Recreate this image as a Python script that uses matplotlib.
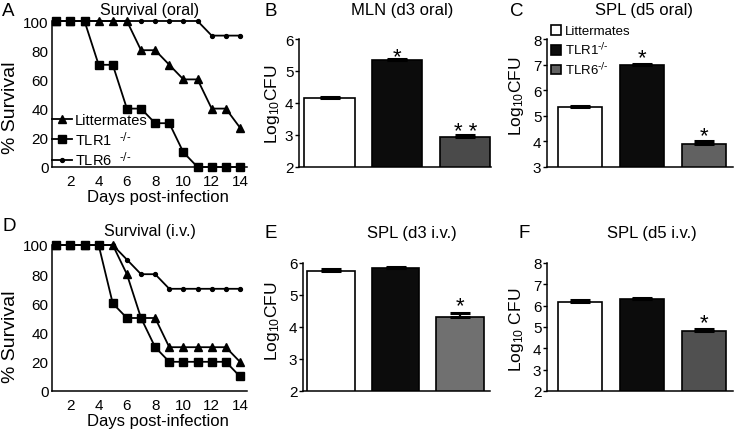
import numpy as np
import matplotlib.pyplot as plt

# survival data (% alive per day)
days = list(range(1, 15))
oral_litter = [100, 100, 100, 100, 100, 100, 80, 80, 70, 60, 60, 40, 40, 27]
oral_tlr1 = [100, 100, 100, 70, 70, 40, 40, 30, 30, 10, 0, 0, 0, 0]
oral_tlr6 = [100, 100, 100, 100, 100, 100, 100, 100, 100, 100, 100, 90, 90, 90]
iv_litter = [100, 100, 100, 100, 100, 80, 50, 50, 30, 30, 30, 30, 30, 20]
iv_tlr1 = [100, 100, 100, 100, 60, 50, 50, 30, 20, 20, 20, 20, 20, 10]
iv_tlr6 = [100, 100, 100, 100, 100, 90, 80, 80, 70, 70, 70, 70, 70, 70]

# bacterial burden (log10 CFU), mean and SEM
groups = ['Littermates', 'TLR1$^{\\text{-/-}}$', 'TLR6$^{\\text{-/-}}$']
mln_d3_oral = [4.15, 5.35, 2.93]
mln_d3_oral_err = [0.05, 0.04, 0.07]
spl_d5_oral = [5.33, 7.0, 3.9]
spl_d5_oral_err = [0.07, 0.02, 0.1]
spl_d3_iv = [5.75, 5.85, 4.3]
spl_d3_iv_err = [0.06, 0.03, 0.15]
spl_d5_iv = [6.15, 6.3, 4.8]
spl_d5_iv_err = [0.1, 0.05, 0.12]

plt.rcParams['font.family'] = ['Liberation Sans', 'DejaVu Sans']
plt.rcParams['mathtext.default'] = 'regular'
plt.rcParams['axes.linewidth'] = 1.1

W, H = 734, 431
fig = plt.figure(figsize=(W / 100, H / 100), dpi=100)


def add_ax(l, t, r, b):
    # pixel box -> figure fraction
    return fig.add_axes([l / W, 1 - b / H, (r - l) / W, (b - t) / H])


def put(x, y, s, **kw):
    fig.text(x / W, 1 - y / H, s, **kw)


def survival(ax, litter, tlr1, tlr6, legend=False):
    ax.plot(days, litter, '-^', color='black', ms=5.5, lw=1.3, clip_on=False,
            label='Littermates')
    ax.plot(days, tlr1, '-s', color='black', ms=5.5, lw=1.3, clip_on=False,
            label='TLR1  $^{\\text{-/-}}$')
    ax.plot(days, tlr6, '-o', color='black', ms=2.8, lw=1.3, clip_on=False,
            label='TLR6  $^{\\text{-/-}}$')
    ax.set_xlim(0.7, 14.5)
    ax.set_ylim(0, 100)
    ax.set_xticks(range(2, 15, 2))
    ax.set_yticks(range(0, 101, 20))
    ax.spines[['top', 'right']].set_visible(False)
    ax.tick_params(axis='y', length=0, labelsize=11, pad=2.5)
    ax.tick_params(axis='x', length=0, labelsize=11, pad=5)
    if legend:
        ax.legend(loc='lower left', bbox_to_anchor=(0.0, -0.01), frameon=False,
                  fontsize=10.5, handlelength=1.4, handletextpad=0.15,
                  labelspacing=0.2, borderpad=0, borderaxespad=0)


def bars(ax, vals, errs, gray, ylim, xlim, width, legend=False):
    x = np.arange(len(vals))
    colors = ['white', '#0c0c0c', gray]
    for i in range(len(vals)):
        ax.bar(x[i], vals[i], width=width, color=colors[i], edgecolor='black',
               lw=1.2, zorder=2, label=groups[i])
    ax.errorbar(x, vals, yerr=[np.zeros(len(vals)), errs], fmt='none',
                ecolor='black', elinewidth=1.6, capsize=7, capthick=2.2, zorder=3)
    ax.set_ylim(*ylim)
    ax.set_xlim(*xlim)
    ax.set_yticks(range(ylim[0], ylim[1] + 1))
    ax.set_xticks([])
    ax.spines[['top', 'right']].set_visible(False)
    ax.tick_params(axis='y', length=3, width=1, labelsize=11, pad=1)
    if legend:
        ax.legend(loc='upper left', bbox_to_anchor=(551 / W, 1 - 26 / H),
                  bbox_transform=fig.transFigure, frameon=False, fontsize=9.5,
                  handlelength=0.75, handleheight=0.75, handletextpad=0.3,
                  labelspacing=0.25, borderpad=0, borderaxespad=0)


def star(ax, i, top, s, dy):
    ax.annotate(s, xy=(i, top), xytext=(0, dy), textcoords='offset pixels',
                ha='center', va='baseline', fontsize=16)


# A
axA = add_ax(52, 22, 247, 168)
survival(axA, oral_litter, oral_tlr1, oral_tlr6, legend=True)
# D
axD = add_ax(52, 246, 247, 392)
survival(axD, iv_litter, iv_tlr1, iv_tlr6)

# B
axB = add_ax(299, 40, 491, 168)
bars(axB, mln_d3_oral, mln_d3_oral_err, '#4a4a4a', (2, 6), (-0.45, 2.38), 0.74)
star(axB, 1, mln_d3_oral[1] + mln_d3_oral_err[1], '*', -4)
star(axB, 2, mln_d3_oral[2] + mln_d3_oral_err[2], '* *', -2)
# C
axC = add_ax(547, 40, 733, 168)
bars(axC, spl_d5_oral, spl_d5_oral_err, '#616161', (3, 8), (-0.53, 2.47), 0.71,
     legend=True)
star(axC, 1, spl_d5_oral[1] + spl_d5_oral_err[1], '*', 1)
star(axC, 2, spl_d5_oral[2] + spl_d5_oral_err[2], '*', 0)
# E
axE = add_ax(303, 264, 490, 392)
bars(axE, spl_d3_iv, spl_d3_iv_err, '#707070', (2, 6), (-0.43, 2.46), 0.74)
star(axE, 2, spl_d3_iv[2] + spl_d3_iv_err[2], '*', 1)
# F
axF = add_ax(547, 264, 733, 392)
bars(axF, spl_d5_iv, spl_d5_iv_err, '#505050', (2, 8), (-0.53, 2.47), 0.71)
star(axF, 2, spl_d5_iv[2] + spl_d5_iv_err[2], '*', 1)

# panel letters and titles
put(2, 12, 'A', fontsize=13.5, va='center', ha='left')
put(150, 11, 'Survival (oral)', fontsize=11.5, va='center', ha='center')
put(265, 12, 'B', fontsize=13.5, va='center', ha='left')
put(402, 11, 'MLN (d3 oral)', fontsize=12, va='center', ha='center')
put(510, 12, 'C', fontsize=13.5, va='center', ha='left')
put(644, 11, 'SPL (d5 oral)', fontsize=12, va='center', ha='center')
put(2, 227, 'D', fontsize=13.5, va='center', ha='left')
put(150, 232, 'Survival (i.v.)', fontsize=11.5, va='center', ha='center')
put(265, 233, 'E', fontsize=13.5, va='center', ha='left')
put(412, 234, 'SPL (d3 i.v.)', fontsize=12, va='center', ha='center')
put(518, 234, 'F', fontsize=13.5, va='center', ha='left')
put(652, 234, 'SPL (d5 i.v.)', fontsize=12, va='center', ha='center')

# axis labels
put(11, 108, '% Survival', fontsize=14, rotation=90, va='center', ha='center')
put(11, 337, '% Survival', fontsize=14, rotation=90, va='center', ha='center')
put(158, 198, 'Days post-infection', fontsize=12, va='center', ha='center')
put(158, 422, 'Days post-infection', fontsize=12, va='center', ha='center')
put(272, 104, 'Log$_{10}$CFU', fontsize=12.5, rotation=90, va='center', ha='center')
put(517, 96, 'Log$_{10}$CFU', fontsize=12.5, rotation=90, va='center', ha='center')
put(272, 321, 'Log$_{10}$CFU', fontsize=12.5, rotation=90, va='center', ha='center')
put(517, 330, 'Log$_{10}$ CFU', fontsize=12.5, rotation=90, va='center', ha='center')

fig.savefig('out.png', dpi=100)
